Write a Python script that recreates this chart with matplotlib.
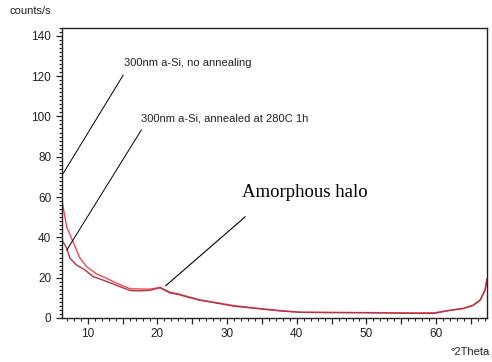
import matplotlib
matplotlib.use("Agg")
import matplotlib.pyplot as plt
from matplotlib.ticker import MultipleLocator, FuncFormatter

# XRD scans of 300 nm a-Si films (2-theta in degrees, intensity in counts/s)
theta_as_dep = [6.3, 6.5, 7.0, 7.9, 8.9, 9.85, 11.3, 12.7, 14.2, 16.1, 17.5, 18.9,
                20.4, 21.8, 23.0, 24.2, 26.1, 27.5, 30.9, 34.2, 37.6, 40.5, 43.8,
                50.0, 57.2, 59.8, 61.5, 63.9, 65.3, 66.3, 67.0, 67.3]
counts_as_dep = [58.5, 54.5, 45.0, 37.8, 29.6, 25.4, 21.8, 19.7, 17.2, 14.5, 14.4, 14.3,
                 15.2, 12.8, 12.0, 10.8, 9.0, 8.2, 6.2, 4.9, 3.7, 2.9, 2.8,
                 2.7, 2.5, 2.6, 3.6, 4.8, 6.4, 8.9, 13.9, 19.5]

theta_annealed = [6.3, 7.0, 7.46, 8.4, 9.6, 10.8, 12.2, 13.7, 16.1, 17.5, 18.9,
                  20.4, 21.8, 23.0, 24.2, 26.1, 27.5, 30.9, 34.2, 37.6, 40.5, 43.8,
                  50.0, 57.2, 59.8, 61.5, 63.9, 65.3, 66.3, 67.0, 67.3]
counts_annealed = [38.7, 34.6, 29.6, 26.3, 23.8, 20.5, 18.8, 16.8, 13.6, 13.5, 13.7,
                   15.0, 12.4, 11.7, 10.5, 8.8, 8.0, 5.9, 4.7, 3.5, 2.8, 2.7,
                   2.6, 2.3, 2.3, 3.5, 4.7, 6.2, 8.7, 13.5, 19.0]

label_as_dep = "300nm a-Si, no annealing"
label_annealed = "300nm a-Si, annealed at 280C 1h"
label_halo = "Amorphous halo"

W, H = 492, 362
fig = plt.figure(figsize=(W / 100, H / 100), dpi=100)
ax = fig.add_axes([61.7 / W, 1 - 318 / H, (487 - 61.7) / W, (318 - 27.7) / H])

sans = "Liberation Sans"
ax.plot(theta_as_dep, counts_as_dep, color="#f04a55", lw=1.0)
ax.plot(theta_annealed, counts_annealed, color="#b03545", lw=1.0)

ax.set_xlim(6.27, 67.3)
ax.set_ylim(0, 144)

ax.xaxis.set_major_locator(MultipleLocator(5))
ax.xaxis.set_minor_locator(MultipleLocator(1))
ax.xaxis.set_major_formatter(FuncFormatter(lambda v, p: f"{v:.0f}" if round(v) % 10 == 0 else ""))
ax.yaxis.set_major_locator(MultipleLocator(20))
ax.yaxis.set_minor_locator(MultipleLocator(2))

ax.tick_params(which="major", direction="out", length=4, width=0.9, labelsize=8.5,
               colors="#222222", pad=3.5)
ax.tick_params(which="minor", direction="out", length=2, width=0.8, colors="#222222")
for lbl in ax.get_xticklabels() + ax.get_yticklabels():
    lbl.set_family(sans)
for s in ax.spines.values():
    s.set_linewidth(1.0)
    s.set_color("#222222")

# Annotations with leader lines
ax.plot([15.1, 6.5], [120.5, 71.8], color="black", lw=0.7)
ax.text(15.2, 126.5, label_as_dep, family=sans, fontsize=8, va="center", ha="left", color="#222222")
ax.plot([17.7, 7.0], [93.3, 33.7], color="black", lw=0.7)
ax.text(17.7, 99.2, label_annealed, family=sans, fontsize=8, va="center", ha="left", color="#222222")
ax.plot([32.6, 21.2], [50.2, 16.0], color="black", lw=0.8)
ax.text(32.2, 62.5, label_halo, family="Liberation Serif", fontsize=13.5, va="center", ha="left",
        color="black")

fig.text(10 / W, 1 - 11 / H, "counts/s", family=sans, fontsize=8, ha="left", va="center", color="#222222")
fig.text(490 / W, 1 - 352 / H, "°2Theta", family=sans, fontsize=8, ha="right", va="center", color="#222222")

fig.savefig("out.png", dpi=100)
